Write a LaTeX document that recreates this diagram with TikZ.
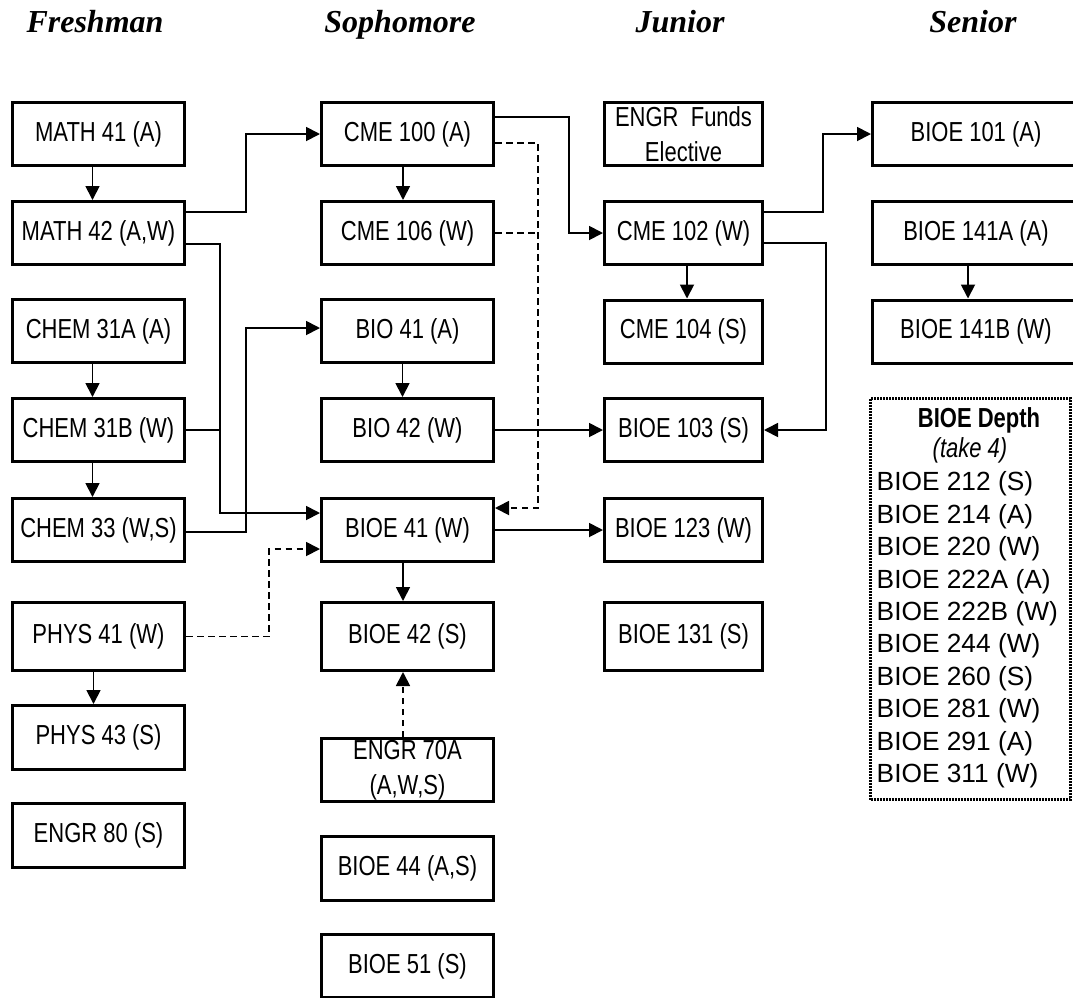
\documentclass[tikz,border=0pt]{standalone}
\usepackage{fontspec}
\setmainfont{Liberation Sans}
\newfontfamily\narrowfont[FakeStretch=0.8]{Liberation Sans}
\newfontfamily\headfont{Liberation Serif}
\usetikzlibrary{arrows.meta}

\begin{document}
\begin{tikzpicture}[x=1pt,y=-1pt,
  course/.style={draw, line width=3pt, minimum width=172pt, minimum height=63pt,
    inner sep=0pt, align=center, font=\narrowfont\fontsize{27.5}{35}\selectfont},
  tallcourse/.style={course, minimum height=68pt},
  juniorcourse/.style={course, minimum width=158pt},
  seniorcourse/.style={course, minimum width=207pt},
  yearhead/.style={anchor=base, font=\headfont\bfseries\itshape\fontsize{32}{38}\selectfont},
  link/.style={line width=1.8pt},
  arr/.style={link, -{Triangle[length=14pt,width=14pt]}},
  optional/.style={dash pattern=on 6.5pt off 4.5pt},
  depthbox/.style={draw, line width=3pt, dash pattern=on 2pt off 1pt,
    minimum width=199.5pt, minimum height=401.5pt, inner sep=0pt},
  listitem/.style={anchor=west, inner sep=0pt, font=\fontsize{26.3}{32}\selectfont}
]
\useasboundingbox (0,0) rectangle (1073,997);
\clip (0,0) rectangle (1073,997);

% year headings
\node[yearhead] (hfr) at (95,32) {Freshman};
\node[yearhead] (hso) at (400,32) {Sophomore};
\node[yearhead] (hju) at (680,32) {Junior};
\node[yearhead] (hse) at (973,32) {Senior};

% freshman year
\node[course] (m41)  at (98.5,134) {MATH 41 (A)};
\node[course] (m42)  at (98.5,233) {MATH 42 (A,W)};
\node[course] (c31a) at (98.5,331) {CHEM 31A (A)};
\node[course] (c31b) at (98.5,430) {CHEM 31B (W)};
\node[course] (c33)  at (98.5,530) {CHEM 33 (W,S)};
\node[tallcourse] (p41) at (98.5,636.5) {PHYS 41 (W)};
\node[course, minimum height=64pt] (p43) at (98.5,737.5) {PHYS 43 (S)};
\node[course, minimum height=64pt] (e80) at (98.5,835.5) {ENGR 80 (S)};

% sophomore year
\node[course] (cme100) at (407.5,134) {CME 100 (A)};
\node[course] (cme106) at (407.5,233) {CME 106 (W)};
\node[course] (bio41)  at (407.5,331) {BIO 41 (A)};
\node[course] (bio42)  at (407.5,430) {BIO 42 (W)};
\node[course] (bioe41) at (407.5,530) {BIOE 41 (W)};
\node[tallcourse] (bioe42) at (407.5,636.5) {BIOE 42 (S)};
\node[course] (e70)    at (407.5,770) {ENGR 70A\\(A,W,S)};
\node[course, minimum height=64pt] (bioe44) at (407.5,868.5) {BIOE 44 (A,S)};
\node[course] (bioe51) at (407.5,966) {BIOE 51 (S)};

% junior year
\node[juniorcourse] (funds)   at (683.5,134) {ENGR\ \ Funds\\Elective};
\node[juniorcourse] (cme102)  at (683.5,233) {CME 102 (W)};
\node[juniorcourse] (cme104)  at (683.5,331.5) {CME 104 (S)};
\node[juniorcourse] (bioe103) at (683.5,430) {BIOE 103 (S)};
\node[juniorcourse] (bioe123) at (683.5,530) {BIOE 123 (W)};
\node[juniorcourse, minimum height=68pt] (bioe131) at (683.5,636.5) {BIOE 131 (S)};

% senior year
\node[seniorcourse] (b101)  at (976,134) {BIOE 101 (A)};
\node[seniorcourse] (b141a) at (976,233) {BIOE 141A (A)};
\node[seniorcourse] (b141b) at (976,331.5) {BIOE 141B (W)};

% depth electives
\node[depthbox] (depth) at (970.25,599) {};
\node[inner sep=0pt, font=\narrowfont\bfseries\fontsize{27.5}{35}\selectfont] (dtitle) at (979,420) {BIOE Depth};
\node[inner sep=0pt, font=\narrowfont\itshape\fontsize{27.5}{35}\selectfont] (dnote) at (970,450) {(take 4)};
\foreach \t [count=\i] in {BIOE 212 (S), BIOE 214 (A), BIOE 220 (W), BIOE 222A (A),
    BIOE 222B (W), BIOE 244 (W), BIOE 260 (S), BIOE 281 (W), BIOE 291 (A), BIOE 311 (W)}
  \node[listitem] (dl\i) at (876.5, 484+32.4*\i-32.4) {\t};

% sequences within a column
\draw[arr] ([xshift=-6pt]m41.south)  -- ([xshift=-6pt]m42.north);
\draw[arr] ([xshift=-6pt]c31a.south) -- ([xshift=-6pt]c31b.north);
\draw[arr] ([xshift=-6pt]c31b.south) -- ([xshift=-6pt]c33.north);
\draw[arr] ([xshift=-5pt]p41.south)  -- ([xshift=-5pt]p43.north);
\draw[arr] ([xshift=-4.5pt]cme100.south) -- ([xshift=-4.5pt]cme106.north);
\draw[arr] ([xshift=-5pt]bio41.south)    -- ([xshift=-5pt]bio42.north);
\draw[arr] ([xshift=-4.5pt]bioe41.south) -- ([xshift=-4.5pt]bioe42.north);
\draw[arr, optional] ([xshift=-4.5pt]e70.north) -- ([xshift=-4.5pt]bioe42.south);
\draw[arr] ([xshift=3.5pt]cme102.south) -- ([xshift=3.5pt]cme104.north);
\draw[arr] ([xshift=-8pt]b141a.south) -- ([xshift=-8pt]b141b.north);

% freshman to sophomore
\draw[arr] ([yshift=21pt]m42.east) -- ++(60pt,0pt) |- (cme100.west);
\draw[arr] ([yshift=-11pt]m42.east) -- ++(34pt,0pt) |- ([yshift=17pt]bioe41.west);
\draw[link] (c31b.east) -- ++(34pt,0pt);
\draw[arr] ([yshift=-2pt]c33.east) -- ++(60pt,0pt) |- ([yshift=3pt]bio41.west);
\draw[arr, optional] (p41.east) -- ++(83pt,0pt) |- ([yshift=-19pt]bioe41.west);

% sophomore to junior
\draw[arr] ([yshift=17pt]cme100.east) -- ++(74pt,0pt) |- (cme102.west);
\draw[arr, optional] ([yshift=-9pt]cme100.east) -- ++(43pt,0pt) |- ([yshift=22pt]bioe41.east);
\draw[link, optional] (cme106.east) -- ++(43pt,0pt);
\draw[arr] (bio42.east) -- (bioe103.west);
\draw[arr] (bioe41.east) -- (bioe123.west);

% junior to senior
\draw[arr] ([yshift=21pt]cme102.east) -- ++(59pt,0pt) |- (b101.west);
\draw[arr] ([yshift=-10pt]cme102.east) -- ++(62pt,0pt) |- (bioe103.east);
\end{tikzpicture}
\end{document}
